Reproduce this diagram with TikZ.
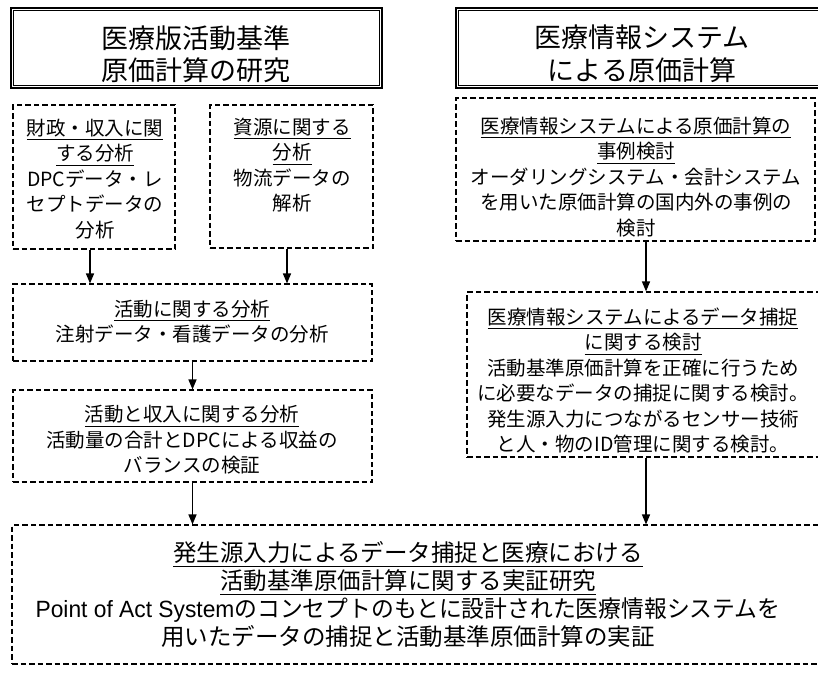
\documentclass[tikz,border=0pt]{standalone}
\usepackage{fontspec}
\setmainfont{Noto Sans CJK JP}
\newfontfamily\lat{Liberation Sans}
\usetikzlibrary{arrows.meta,calc}
\newcommand\ulx[2][-4.8pt]{\sbox0{#2}\leavevmode\rlap{\rule[#1]{\wd0}{0.9pt}}\usebox0}
\begin{document}
\begin{tikzpicture}[x=1pt,y=-1pt,
  dbox/.style={draw, line width=1.1pt, dash pattern=on 5.5pt off 3pt, inner sep=0pt},
  tbox/.style={draw, line width=2.2pt, inner sep=0pt},
  txt/.style={align=center, inner sep=0pt, font=\fontsize{19.5}{25.5}\selectfont},
  ttl/.style={align=center, inner sep=0pt, font=\fontsize{27}{32.5}\selectfont},
  big/.style={align=center, inner sep=0pt, font=\fontsize{23.5}{28}\selectfont},
  arr/.style={line width=1.4pt, -{Triangle[length=10pt,width=8pt]}}]
\clip (0,0) rectangle (818,672);
\fill[white] (0,0) rectangle (818,672);
% title boxes
\node[tbox, minimum width=371pt, minimum height=80pt] (T1) at (196.5,48) {};
\draw[line width=0.8pt] ($(T1.north west)+(3.5,3.5)$) rectangle ($(T1.south east)+(-3.5,-3.5)$);
\node[tbox, minimum width=374pt, minimum height=80pt] (T2) at (643,48) {};
\draw[line width=0.8pt] ($(T2.north west)+(3.5,3.5)$) rectangle ($(T2.south east)+(-3.5,-3.5)$);
\node[ttl] (t1) at (196,54) {医療版活動基準\\原価計算の研究};
\node[ttl] (t2) at (642,54) {医療情報システム\\による原価計算};
% dashed boxes
\node[dbox, minimum width=162pt, minimum height=144pt] (A) at (94,177) {};
\node[dbox, minimum width=163pt, minimum height=143pt] (B) at (291.5,176.5) {};
\node[dbox, minimum width=359pt, minimum height=77pt] (C) at (192.5,322.5) {};
\node[dbox, minimum width=359pt, minimum height=92pt] (D) at (192.5,436) {};
\node[dbox, minimum width=359pt, minimum height=143pt] (E) at (635.5,169.5) {};
\node[dbox, minimum width=358pt, minimum height=165pt] (F) at (646,374.5) {};
\node[dbox, minimum width=818pt, minimum height=139pt] (G) at (421,594.5) {};
% texts
\node[txt] (tA) at (95,179) {\ulx{財政・収入に関}\\\ulx{する分析}\\DPCデータ・レ\\セプトデータの\\分析};
\node[txt] (tB) at (292,165) {\ulx{資源に関する}\\\ulx{分析}\\物流データの\\解析};
\node[txt] (tC) at (192,321.5) {\ulx{活動に関する分析}\\注射データ・看護データの分析};
\node[txt] (tD) at (192,440) {\ulx{活動と収入に関する分析}\\活動量の合計とDPCによる収益の\\バランスの検証};
\node[txt] (tE) at (636,177) {\ulx{医療情報システムによる原価計算の}\\\ulx{事例検討}\\オーダリングシステム・会計システム\\を用いた原価計算の国内外の事例の\\検討};
\node[txt] (tF) at (643,380.5) {\ulx{医療情報システムによるデータ捕捉}\\\ulx{に関する検討}\\活動基準原価計算を正確に行うため\\に必要なデータの捕捉に関する検討。\\発生源入力につながるセンサー技術\\と人・物のID管理に関する検討。};
\node[big] (tG) at (408,594) {\ulx[-5.5pt]{発生源入力によるデータ捕捉と医療における}\\\ulx[-5.5pt]{活動基準原価計算に関する実証研究}\\\scalebox{0.97}[1]{{\lat Point of Act System}のコンセプトのもとに設計された医療情報システムを}\\用いたデータの捕捉と活動基準原価計算の実証};
% arrows
\draw[arr] ([xshift=-4pt]A.south) -- ([xshift=-4pt]A.south |- C.north);
\draw[arr] ([xshift=-4.5pt]B.south) -- ([xshift=-4.5pt]B.south |- C.north);
\draw[arr] (C.south) -- (C.south |- D.north);
\draw[arr] (D.south) -- (D.south |- G.north);
\draw[arr] (F.north |- E.south) -- (F.north);
\draw[arr] (F.south) -- (F.south |- G.north);
\end{tikzpicture}
\end{document}
